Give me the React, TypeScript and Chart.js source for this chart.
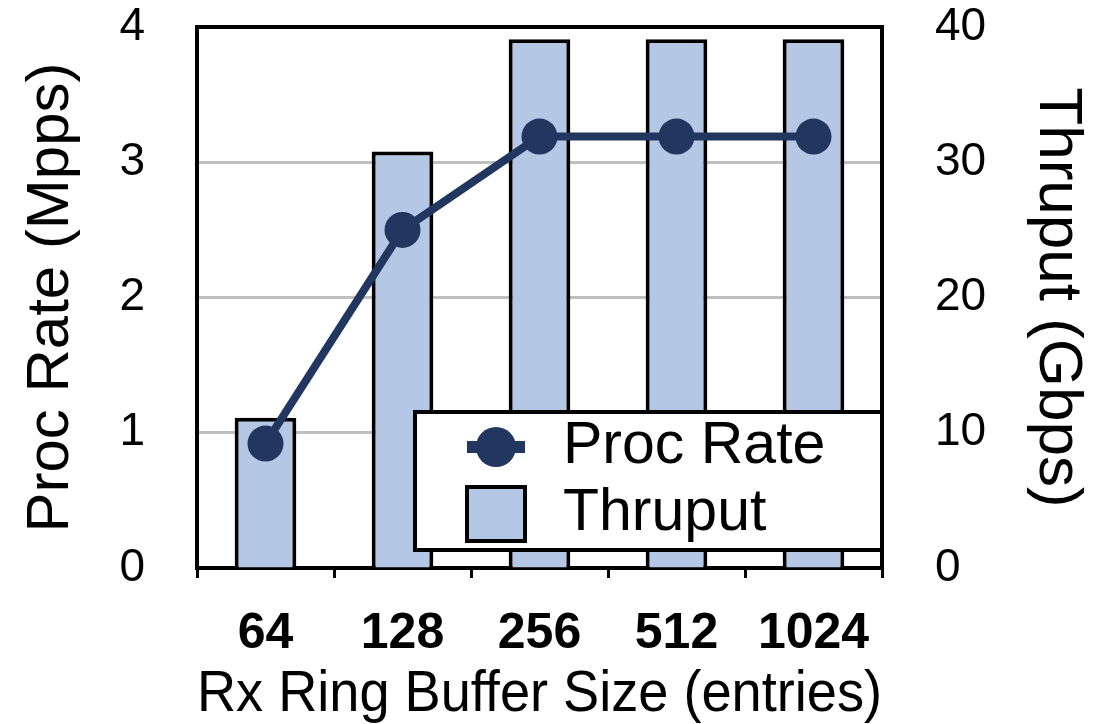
import React, { useEffect, useRef } from 'react';
import { Chart, registerables } from 'chart.js';

Chart.register(...registerables);

// ---- data ----
const categories = ['64', '128', '256', '512', '1024'];
const procRate = [0.92, 2.5, 3.19, 3.19, 3.19]; // Mpps (left axis)
const thruput = [11.1, 30.8, 39.1, 39.1, 39.1]; // Gbps (right axis)
const leftTickValues = [0, 1, 2, 3, 4];
const rightTickValues = [0, 10, 20, 30, 40];

const FONT = '"Liberation Sans", Arial, Helvetica, sans-serif';
const LINE_COLOR = '#22375f';
const BAR_COLOR = '#b4c7e4';
const GRID_COLOR = '#bfbfbf';

const boxLegend = {
  id: 'boxLegend',
  afterDraw(chart: any) {
    const { ctx, chartArea } = chart;
    const w = 467;
    const h = 138;
    const x = chartArea.right - w;
    const y = chartArea.bottom - 18 - h;
    ctx.save();
    ctx.fillStyle = '#ffffff';
    ctx.fillRect(x, y, w, h);
    ctx.lineWidth = 4;
    ctx.strokeStyle = '#000';
    ctx.strokeRect(x, y, w, h);

    const r1 = y + 35;
    const r2 = y + 102;
    ctx.strokeStyle = LINE_COLOR;
    ctx.lineWidth = 12;
    ctx.beginPath();
    ctx.moveTo(x + 52, r1);
    ctx.lineTo(x + 110, r1);
    ctx.stroke();
    ctx.fillStyle = LINE_COLOR;
    ctx.beginPath();
    ctx.arc(x + 81, r1, 20, 0, Math.PI * 2);
    ctx.fill();
    ctx.fillStyle = BAR_COLOR;
    ctx.fillRect(x + 52, r2 - 27, 58, 54);
    ctx.strokeStyle = '#000';
    ctx.lineWidth = 4;
    ctx.strokeRect(x + 52, r2 - 27, 58, 54);
    ctx.fillStyle = '#000';
    ctx.font = `59px ${FONT}`;
    ctx.textAlign = 'left';
    ctx.textBaseline = 'middle';
    ctx.fillText(chart.data.datasets[0].label, x + 148, r1);
    ctx.fillText(chart.data.datasets[1].label, x + 148, r2);
    ctx.restore();
  },
};

export default function App() {
  const canvasRef = useRef<HTMLCanvasElement | null>(null);

  useEffect(() => {
    if (!canvasRef.current) return;
    const chart = new Chart(canvasRef.current, {
      type: 'bar',
      data: {
        labels: categories,
        datasets: [
          {
            type: 'line',
            label: 'Proc Rate',
            data: procRate,
            yAxisID: 'y',
            borderColor: LINE_COLOR,
            backgroundColor: LINE_COLOR,
            borderWidth: 8,
            pointRadius: 18,
            pointHoverRadius: 18,
            pointBorderWidth: 0,
            pointBackgroundColor: LINE_COLOR,
            tension: 0,
            order: 0,
          } as any,
          {
            type: 'bar',
            label: 'Thruput',
            data: thruput,
            yAxisID: 'y2',
            backgroundColor: BAR_COLOR,
            borderColor: '#000',
            borderWidth: 4,
            barPercentage: 0.45,
            categoryPercentage: 1,
            order: 1,
          } as any,
        ],
      },
      options: {
        responsive: false,
        animation: false,
        layout: { padding: { top: 27, left: 0, right: 0, bottom: 0 } },
        plugins: {
          legend: { display: false },
          tooltip: { enabled: false },
        },
        scales: {
          x: {
            type: 'category',
            offset: true,
            grid: {
              offset: true,
              drawOnChartArea: false,
              color: '#000',
              lineWidth: 3,
              tickLength: 10,
            },
            border: { color: '#000', width: 4 },
            ticks: {
              color: '#000',
              padding: 26,
              maxRotation: 0,
              font: { family: FONT, size: 50, weight: 'bold' },
            },
            title: {
              display: true,
              text: 'Rx Ring Buffer Size (entries)',
              color: '#000',
              font: { family: FONT, size: 57, lineHeight: 1 },
              padding: { top: 0, bottom: 0 },
            },
            afterFit: (s: any) => {
              s.height = 156;
              s.paddingLeft = 0;
              s.paddingRight = 0;
            },
          },
          y: {
            type: 'linear',
            position: 'left',
            min: 0,
            max: 4,
            afterBuildTicks: (s: any) => {
              s.ticks = leftTickValues.map((v) => ({ value: v }));
            },
            grid: {
              color: (c: any) =>
                c.tick && c.tick.value === 4 ? '#000' : c.tick && c.tick.value === 0 ? 'rgba(0,0,0,0)' : GRID_COLOR,
              lineWidth: (c: any) => (c.tick && c.tick.value === 4 ? 4 : 3),
              drawTicks: false,
            },
            border: { color: '#000', width: 4 },
            ticks: {
              color: '#000',
              padding: 52,
              font: { family: FONT, size: 46 },
            },
            title: {
              display: true,
              text: 'Proc Rate (Mpps)',
              color: '#000',
              font: { family: FONT, size: 60 },
              padding: { top: 15, bottom: 0 },
            },
            afterFit: (s: any) => {
              s.width = 197;
              s.paddingTop = 0;
              s.paddingBottom = 0;
            },
          },
          y2: {
            type: 'linear',
            position: 'right',
            min: 0,
            max: 40,
            afterBuildTicks: (s: any) => {
              s.ticks = rightTickValues.map((v) => ({ value: v }));
            },
            grid: { drawOnChartArea: false, drawTicks: false },
            border: { color: '#000', width: 4 },
            ticks: {
              color: '#000',
              padding: 53,
              font: { family: FONT, size: 46 },
            },
            title: {
              display: true,
              text: 'Thruput (Gbps)',
              color: '#000',
              font: { family: FONT, size: 62 },
              padding: { top: 21, bottom: 0 },
            },
            afterFit: (s: any) => {
              s.width = 233;
              s.paddingTop = 0;
              s.paddingBottom = 0;
            },
          },
        },
      } as any,
      plugins: [boxLegend],
    });
    return () => chart.destroy();
  }, []);

  return (
    <div style={{ position: 'absolute', left: 0, top: 0, width: 1115, height: 724, background: '#fff' }}>
      <canvas ref={canvasRef} width={1115} height={724} style={{ width: 1115, height: 724 }} />
    </div>
  );
}
